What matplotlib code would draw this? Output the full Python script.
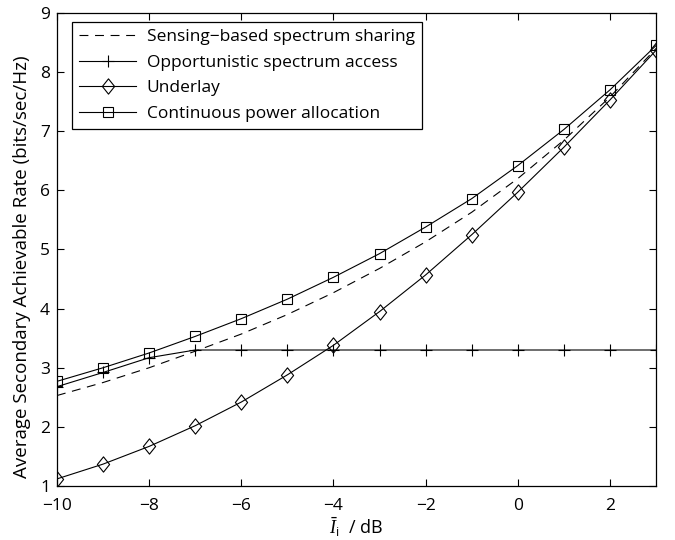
import matplotlib
matplotlib.use('Agg')
import matplotlib.pyplot as plt
from matplotlib.path import Path

plt.rcParams['font.family'] = ['Open Sans', 'DejaVu Sans']
plt.rcParams['mathtext.fontset'] = 'custom'
plt.rcParams['mathtext.it'] = 'Liberation Serif:italic'
plt.rcParams['mathtext.rm'] = 'Open Sans'

# interference threshold (dB)
x = [-10, -9, -8, -7, -6, -5, -4, -3, -2, -1, 0, 1, 2, 3]

sensing = [2.53, 2.75, 3.0, 3.28, 3.57, 3.9, 4.27, 4.68, 5.13, 5.63, 6.2, 6.85, 7.58, 8.4]
opportunistic = [2.68, 2.92, 3.17, 3.3, 3.3, 3.3, 3.3, 3.3, 3.3, 3.3, 3.3, 3.3, 3.3, 3.3]
underlay = [1.12, 1.37, 1.67, 2.02, 2.42, 2.88, 3.38, 3.95, 4.57, 5.25, 5.97, 6.73, 7.53, 8.37]
continuous = [2.77, 3.0, 3.25, 3.53, 3.83, 4.16, 4.53, 4.93, 5.38, 5.86, 6.42, 7.03, 7.70, 8.45]

labels = ['Sensing\u2212based spectrum sharing', 'Opportunistic spectrum access',
          'Underlay', 'Continuous power allocation']

# matlab-like diamond, a bit taller than wide
diamond = Path([(0, 1), (0.8, 0), (0, -1), (-0.8, 0), (0, 1)],
               [Path.MOVETO, Path.LINETO, Path.LINETO, Path.LINETO, Path.CLOSEPOLY])

fig = plt.figure(figsize=(6.75, 5.4), dpi=100)
ax = fig.add_axes([0.0844, 0.1, 0.8876, 0.876])

lw = 0.8
ax.plot(x, sensing, 'k--', lw=lw, dashes=(8, 6), label=labels[0])
ax.plot(x, opportunistic, 'k-', lw=lw, marker='+', ms=8, mew=0.8, label=labels[1])
ax.plot(x, underlay, 'k-', lw=lw, marker=diamond, ms=11, mew=0.8, mfc='none', label=labels[2])
ax.plot(x, continuous, 'k-', lw=lw, marker='s', ms=7.5, mew=0.8, mfc='none', label=labels[3])

ax.set_xlim(-10, 3)
ax.set_ylim(1, 9)
ax.set_xticks([-10, -8, -6, -4, -2, 0, 2])
ax.set_yticks(range(1, 10))
ax.tick_params(direction='in', top=True, right=True, labelsize=12.5, length=5, width=0.8, pad=5)
ax.tick_params(axis='x', pad=9)
for s in ax.spines.values():
    s.set_linewidth(0.9)

ax.set_xlabel(r'$\bar{I}_{\mathrm{i}}$  / dB', fontsize=13, labelpad=1)
ax.set_ylabel('Average Secondary Achievable Rate (bits/sec/Hz)', fontsize=13.5)
ax.yaxis.set_label_coords(-0.043, 0.463)

leg = ax.legend(loc='upper left', bbox_to_anchor=(0.025, 0.981), borderaxespad=0,
                fontsize=12.5, fancybox=False, edgecolor='black', framealpha=1,
                handlelength=3.3, handletextpad=0.6, labelspacing=0.55)
leg.get_frame().set_linewidth(0.9)

fig.savefig('out.png', dpi=100)
